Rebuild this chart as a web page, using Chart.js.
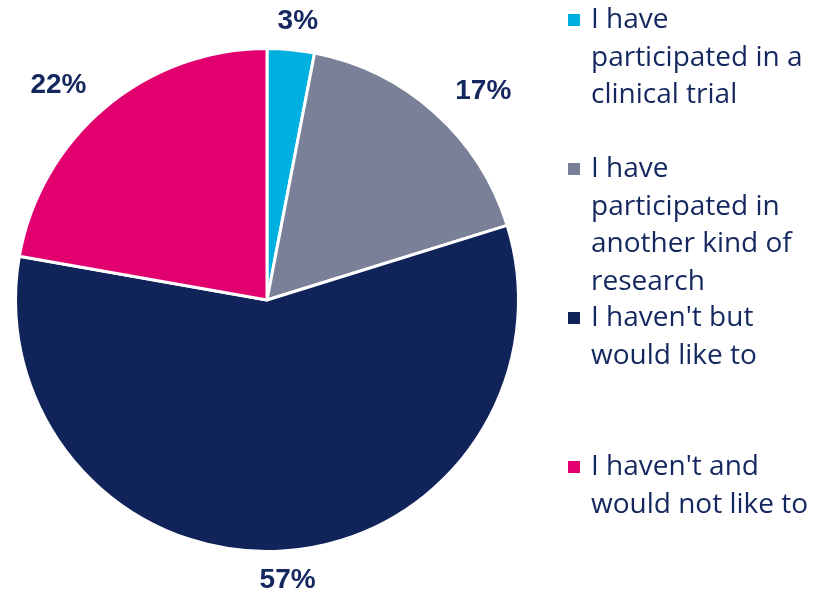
<!DOCTYPE html>
<html>
<head>
<meta charset="utf-8">
<script src="https://cdn.jsdelivr.net/npm/chart.js@4"></script>
<style>
html,body{margin:0;padding:0;background:#fff;}
#wrap{width:834px;height:592px;position:relative;}
</style>
</head>
<body>
<div id="wrap"><canvas id="c" width="834" height="592"></canvas></div>
<script>
const categories = [
  "I have participated in a clinical trial",
  "I have participated in another kind of research",
  "I haven't but would like to",
  "I haven't and would not like to"
];
const legendLines = [
  ["I have", "participated in a", "clinical trial"],
  ["I have", "participated in", "another kind of", "research"],
  ["I haven't but", "would like to"],
  ["I haven't and", "would not like to"]
];
const percentages = [3, 17, 57, 22];
const colors = ["#00B0E0", "#7A8097", "#10245A", "#E2006F"];
const textColor = "#14275E";

const labelPlugin = {
  id: 'outLabels',
  afterDatasetsDraw(chart) {
    const ctx = chart.ctx;
    const meta = chart.getDatasetMeta(0);
    ctx.save();
    ctx.font = "bold 28px 'Liberation Sans', Arial, sans-serif";
    ctx.fillStyle = textColor;
    ctx.textAlign = 'center';
    ctx.textBaseline = 'middle';
    meta.data.forEach((arc, i) => {
      const p = arc.getProps(['x','y','startAngle','endAngle','outerRadius'], true);
      const mid = (p.startAngle + p.endAngle) / 2;
      const a = p.outerRadius * 1.29, b = p.outerRadius * 1.115;
      const x = p.x + Math.cos(mid) * a;
      const y = p.y + Math.sin(mid) * b;
      ctx.fillText(percentages[i] + '%', x, y);
    });
    ctx.restore();
  }
};

const legendPlugin = {
  id: 'sideLegend',
  afterDraw(chart) {
    const ctx = chart.ctx;
    ctx.save();
    ctx.font = "28px 'Open Sans', sans-serif";
    ctx.textBaseline = 'middle';
    ctx.textAlign = 'left';
    const slot = 149, first = 20, lh = 37.6;
    legendLines.forEach((lines, i) => {
      const y0 = first + i * slot;
      ctx.fillStyle = colors[i];
      ctx.fillRect(568, y0 - 6, 12, 12);
      ctx.fillStyle = textColor;
      lines.forEach((t, j) => ctx.fillText(t, 591, y0 + j * lh));
    });
    ctx.restore();
  }
};

new Chart(document.getElementById('c'), {
  type: 'pie',
  data: {
    labels: categories,
    datasets: [{
      data: percentages,
      backgroundColor: colors,
      borderColor: '#ffffff',
      borderWidth: 3
    }]
  },
  options: {
    responsive: false,
    animation: false,
    layout: { padding: { left: 14, right: 314, top: 47, bottom: 39 } },
    plugins: { legend: { display: false }, tooltip: { enabled: false } }
  },
  plugins: [labelPlugin, legendPlugin]
});
</script>
</body>
</html>
